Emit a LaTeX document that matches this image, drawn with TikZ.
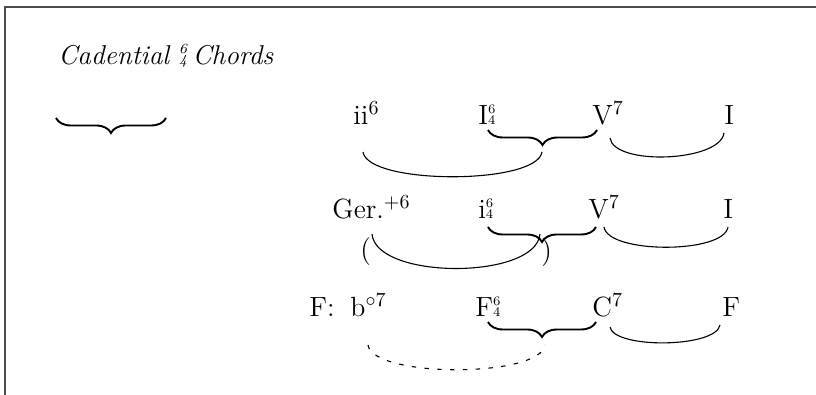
\documentclass[tikz,border=0pt]{standalone}
\usetikzlibrary{decorations.pathreplacing}
\newcommand{\figsixfour}{{\fontsize{6.5}{7}\selectfont\rlap{\raisebox{5.6pt}{6}}4}}
\newcommand{\titlesixfour}{{\fontsize{7}{8}\selectfont\itshape\rlap{\raisebox{5.9pt}{6}}4}}
\begin{document}
\begin{tikzpicture}[x=0.5pt,y=-0.5pt,
  lbl/.style={anchor=base west,inner sep=0pt,font=\fontsize{13.9}{16}\selectfont},
  ttl/.style={anchor=base west,inner sep=0pt,font=\fontsize{13.6}{16}\selectfont\itshape},
  slur/.style={line width=0.55pt},
  dslur/.style={line width=0.55pt,dash pattern=on 2.2pt off 4.2pt},
  bracestyle/.style={decorate,decoration={brace,mirror,amplitude=7.5pt},line width=0.95pt},
  frameline/.style={line width=1pt,draw=black!70}]
\useasboundingbox (0,0) rectangle (816,395);
% frame
\coordinate (fb) at (5,395);
\coordinate (ftl) at (5,7);
\coordinate (fr) at (816,7);
\draw[frameline] (fb) -- (ftl) -- (fr);
% title
\node[ttl] (title) at (58,65) {Cadential \titlesixfour\hspace{0.2em}Chords};
% left brace
\coordinate (lb1) at (56,118);
\coordinate (lb2) at (166,118);
\draw[bracestyle] (lb1) -- (lb2);
% row 1
\node[lbl] (r1a) at (353,125) {ii$^{6}$};
\node[lbl] (r1b) at (478,125) {I\figsixfour};
\node[lbl] (r1c) at (592,125) {V$^{7}$};
\node[lbl] (r1d) at (724,125) {I};
\coordinate (b1s) at (488,130);
\coordinate (b1e) at (597,130);
\draw[bracestyle] (b1s) -- (b1e);
\coordinate (s1a) at (363,152);
\coordinate (s1b) at (542,152);
\draw[slur] (s1a) .. controls (368,185) and (537,185) .. (s1b);
\coordinate (s1c) at (610,138);
\coordinate (s1d) at (724,133);
\draw[slur] (s1c) .. controls (614,166) and (720,162) .. (s1d);
% row 2
\node[lbl] (r2a) at (332,219) {Ger.$^{+6}$};
\node[lbl] (r2b) at (478,219) {i\figsixfour};
\node[lbl] (r2c) at (588,219) {V$^{7}$};
\node[lbl] (r2d) at (723,219) {I};
\node[lbl] (pl) at (360,259) {(};
\node[lbl] (pr) at (541,260) {)};
\coordinate (b2s) at (488,227);
\coordinate (b2e) at (596,227);
\draw[bracestyle] (b2s) -- (b2e);
\coordinate (s2a) at (372,234);
\coordinate (s2b) at (540,234);
\draw[slur] (s2a) .. controls (376,280) and (536,280) .. (s2b);
\coordinate (s2c) at (604,227);
\coordinate (s2d) at (728,227);
\draw[slur] (s2c) .. controls (608,254) and (724,254) .. (s2d);
% row 3
\node[lbl] (r3k) at (309,317) {F:};
\node[lbl] (r3a) at (350,317) {b$^{\circ 7}$};
\node[lbl] (r3b) at (475,317) {F\figsixfour};
\node[lbl] (r3c) at (592,317) {C$^{7}$};
\node[lbl] (r3d) at (722,317) {F};
\coordinate (b3s) at (488,322);
\coordinate (b3e) at (596,322);
\draw[bracestyle] (b3s) -- (b3e);
\coordinate (s3a) at (368,345);
\coordinate (s3b) at (545,345);
\draw[dslur] (s3a) .. controls (373,378) and (540,378) .. (s3b);
\coordinate (s3c) at (610,327);
\coordinate (s3d) at (720,325);
\draw[slur] (s3c) .. controls (614,349) and (716,348) .. (s3d);
\end{tikzpicture}
\end{document}
